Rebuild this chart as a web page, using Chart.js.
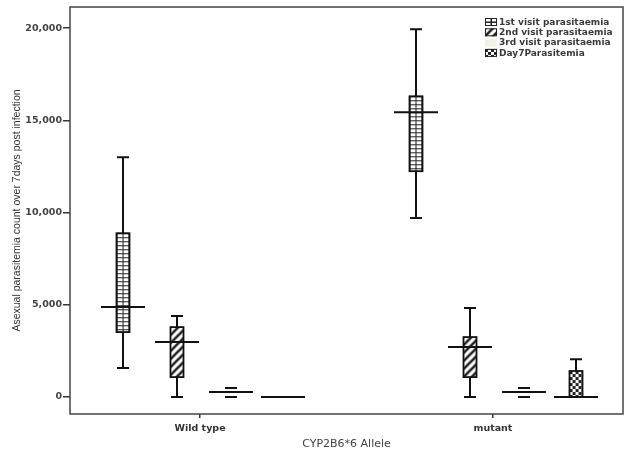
<!DOCTYPE html>
<html>
<head>
<meta charset="utf-8">
<script src="https://cdn.jsdelivr.net/npm/chart.js@4.4.1/dist/chart.umd.min.js"></script>
<style>
  html, body { margin: 0; padding: 0; background: #fff; }
  #wrap { width: 625px; height: 455px; }
</style>
</head>
<body>
<div id="wrap"><canvas id="chart" width="625" height="455"></canvas></div>
<script>
// Kategorien und Serien
var categories = ['Wild type', 'mutant'];
var seriesNames = ['1st visit parasitaemia', '2nd visit parasitaemia', '3rd visit parasitaemia', 'Day7Parasitemia'];
// je Kategorie: [min, q1, median, q3, max]
var visit1 = [[1570, 3520, 4875, 8880, 13000], [9700, 12240, 15440, 16300, 19930]];
var visit2 = [[0, 1080, 2980, 3790, 4390], [0, 1080, 2710, 3250, 4820]];
var visit3 = [[0, 0, 270, 490, 490], [0, 0, 270, 490, 490]];
var day7 = [[0, 0, 0, 0, 0], [0, 0, 0, 1410, 2050]];
var yTicks = [0, 5000, 10000, 15000, 20000];

var allStats = [visit1, visit2, visit3, day7];
var seriesOffset = [-0.262, -0.079, 0.105, 0.283];
var patternKinds = ['grid', 'stripe', 'none', 'check'];

function makePattern(kind) {
    var c = document.createElement('canvas');
    var g = c.getContext('2d');
    if (kind === 'grid') {
        c.width = 6; c.height = 4;
        g.fillStyle = '#fff'; g.fillRect(0, 0, 6, 4);
        g.fillStyle = '#222';
        g.fillRect(0, 0, 6, 1);
        g.fillRect(0, 0, 1, 4);
    } else if (kind === 'stripe') {
        c.width = 8; c.height = 8;
        g.fillStyle = '#fff'; g.fillRect(0, 0, 8, 8);
        g.strokeStyle = '#222'; g.lineWidth = 2.6;
        g.beginPath();
        g.moveTo(-2, 10); g.lineTo(10, -2);
        g.moveTo(-2, 2); g.lineTo(2, -2);
        g.moveTo(6, 10); g.lineTo(10, 6);
        g.stroke();
    } else if (kind === 'check') {
        c.width = 6; c.height = 6;
        g.fillStyle = '#fff'; g.fillRect(0, 0, 6, 6);
        g.fillStyle = '#222';
        g.fillRect(0, 0, 3, 3);
        g.fillRect(3, 3, 3, 3);
    } else {
        c.width = 4; c.height = 4;
        g.fillStyle = '#fbfbf6'; g.fillRect(0, 0, 4, 4);
    }
    return g.createPattern(c, 'repeat');
}

var patterns = patternKinds.map(makePattern);

var boxW = 13, capW = 12, medW = 44;

// zeichnet Boxen, Whisker, Mediane und Rahmen
var boxPlot = {
    id: 'boxPlot',
    afterDatasetsDraw: function(chart) {
        var ctx = chart.ctx;
        var y = chart.scales.y;
        var area = chart.chartArea;
        ctx.save();
        chart.data.datasets.forEach(function(ds, s) {
            var meta = chart.getDatasetMeta(s);
            ds.stats.forEach(function(st, i) {
                var cx = Math.round(meta.data[i].x);
                var yMin = y.getPixelForValue(st[0]);
                var yQ1 = y.getPixelForValue(st[1]);
                var yMed = y.getPixelForValue(st[2]);
                var yQ3 = y.getPixelForValue(st[3]);
                var yMax = y.getPixelForValue(st[4]);
                ctx.strokeStyle = '#111';
                ctx.lineWidth = 2;
                // Whisker
                ctx.beginPath();
                if (s !== 2) {
                    ctx.moveTo(cx, yMax); ctx.lineTo(cx, yQ3);
                    ctx.moveTo(cx, yQ1); ctx.lineTo(cx, yMin);
                }
                ctx.moveTo(cx - capW / 2, yMax); ctx.lineTo(cx + capW / 2, yMax);
                ctx.moveTo(cx - capW / 2, yMin); ctx.lineTo(cx + capW / 2, yMin);
                ctx.stroke();
                // Box
                if (yQ1 - yQ3 > 0.5 && s !== 2) {
                    ctx.save();
                    ctx.translate(cx - boxW / 2, yQ3);
                    ctx.fillStyle = patterns[s];
                    ctx.fillRect(0, 0, boxW, yQ1 - yQ3);
                    ctx.lineWidth = 1.8;
                    ctx.strokeRect(0, 0, boxW, yQ1 - yQ3);
                    ctx.restore();
                }
                // Median
                ctx.lineWidth = 2;
                ctx.beginPath();
                ctx.moveTo(cx - medW / 2, yMed); ctx.lineTo(cx + medW / 2, yMed);
                ctx.stroke();
            });
        });
        // Rahmen
        ctx.strokeStyle = '#444';
        ctx.lineWidth = 1.5;
        ctx.strokeRect(area.left, area.top, area.right - area.left, area.bottom - area.top);

        // Legende
        var lx = 485, ly = 18;
        ctx.font = 'bold 9px "DejaVu Sans"';
        ctx.textBaseline = 'middle';
        seriesNames.forEach(function(name, s) {
            var top = ly + s * 10.3;
            if (s !== 2) {
                ctx.save();
                ctx.translate(lx, top);
                ctx.fillStyle = patterns[s];
                ctx.fillRect(0, 0, 12, 8);
                ctx.strokeStyle = '#222';
                ctx.lineWidth = 1;
                ctx.strokeRect(0.5, 0.5, 11, 7);
                if (s === 0) {
                    ctx.beginPath();
                    ctx.moveTo(6, 0); ctx.lineTo(6, 8);
                    ctx.moveTo(0, 4); ctx.lineTo(12, 4);
                    ctx.stroke();
                }
                ctx.restore();
            } else {
                ctx.fillStyle = '#f1f1e6';
                ctx.fillRect(lx, top, 12, 8);
            }
            ctx.fillStyle = '#3a3a3a';
            ctx.fillText(name, lx + 14, top + 4.5);
        });
        ctx.restore();
    }
};

var datasets = allStats.map(function(stats, s) {
    return {
        label: seriesNames[s],
        data: categories.map(function(c, i) { return { x: i + seriesOffset[s], y: stats[i][2] }; }),
        stats: stats,
        pointRadius: 0,
        showLine: false
    };
});

var chart = new Chart(document.getElementById('chart').getContext('2d'), {
    type: 'scatter',
    data: { datasets: datasets },
    plugins: [boxPlot],
    options: {
        responsive: false,
        animation: false,
        layout: { padding: { top: 7, right: 2, left: 0, bottom: 0 } },
        plugins: { legend: { display: false }, tooltip: { enabled: false } },
        scales: {
            x: {
                type: 'linear',
                min: -0.444,
                max: 1.444,
                afterBuildTicks: function(scale) {
                    scale.ticks = categories.map(function(c, i) { return { value: i }; });
                },
                afterFit: function(scale) { scale.height = 41; },
                ticks: {
                    callback: function(v) { return categories[v]; },
                    color: '#333',
                    font: { family: 'DejaVu Sans', size: 9.5, weight: 'bold' },
                    padding: 5
                },
                grid: { display: true, drawOnChartArea: false, tickLength: 4, color: '#333', lineWidth: 1.5 },
                border: { display: false },
                title: {
                    display: true,
                    text: 'CYP2B6*6 Allele',
                    color: '#444',
                    font: { family: 'DejaVu Sans', size: 11 },
                    padding: { top: 2, bottom: 4 }
                }
            },
            y: {
                min: -920,
                max: 21140,
                afterBuildTicks: function(scale) {
                    scale.ticks = yTicks.map(function(v) { return { value: v }; });
                },
                afterFit: function(scale) { scale.width = 70; },
                ticks: {
                    callback: function(v) { return v.toLocaleString('en-US'); },
                    color: '#444',
                    font: { family: 'DejaVu Sans', size: 9.5, weight: 'bold' },
                    padding: 1
                },
                grid: { display: true, drawOnChartArea: false, tickLength: 7, color: '#333', lineWidth: 1.5 },
                border: { display: false },
                title: {
                    display: true,
                    text: 'Asexual parasitemia count over 7days post infection',
                    color: '#333',
                    font: { family: '"Liberation Sans"', size: 10.5 },
                    padding: { top: 11, bottom: 0 }
                }
            }
        }
    }
});
</script>
</body>
</html>
